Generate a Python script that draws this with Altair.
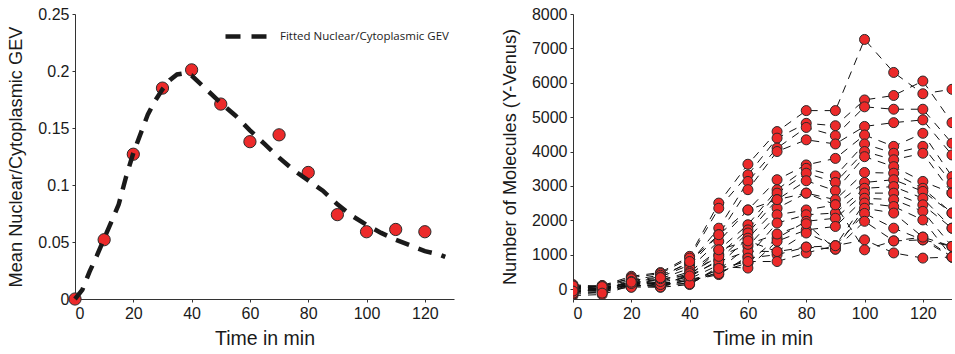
import altair as alt
import pandas as pd

# ---------------- Left panel data ----------------
mean_t = [0, 10, 20, 30, 40, 50, 60, 70, 80, 90, 100, 110, 120]
mean_ratio = [0.0, 0.052, 0.127, 0.185, 0.201, 0.171, 0.138, 0.144, 0.111, 0.074, 0.059, 0.061, 0.059]

fit_t = [0, 2.5, 5, 7.5, 10, 12.5, 15, 17.5, 20, 22.5, 25, 27.5, 30, 32.5, 35, 37.5, 40,
         42.5, 45, 50, 55, 60, 65, 70, 75, 80, 85, 90, 95, 100, 105, 110, 115, 120, 125, 127]
fit_ratio = [0.0, 0.008, 0.024, 0.038, 0.053, 0.068, 0.083, 0.107, 0.128, 0.145, 0.162, 0.174,
             0.184, 0.192, 0.197, 0.198, 0.196, 0.190, 0.184, 0.172, 0.161, 0.148, 0.136, 0.124,
             0.113, 0.104, 0.095, 0.083, 0.073, 0.065, 0.058, 0.052, 0.047, 0.042, 0.039, 0.037]
fit_label = "Fitted Nuclear/Cytoplasmic GEV"

# ---------------- Right panel data ----------------
times = [0, 10, 20, 30, 40, 50, 60, 70, 80, 90, 100, 110, 120, 130]
cells = {
    "A": [30, 100, 370, 480, 950, 2500, 3630, 4580, 5190, 5190, 7260, 6300, 5680, 5810],
    "B": [130, 60, 330, 450, 900, 2350, 3320, 4390, 4820, 4750, 5500, 5630, 6050, 4840],
    "C": [-100, -70, 270, 400, 755, 1770, 3130, 4100, 4700, 4460, 5300, 5230, 5230, 4240],
    "D": [50, 80, 250, 350, 700, 1580, 2890, 4000, 4340, 4220, 4730, 4840, 4920, 3900],
    "E": [-190, -160, 100, 300, 600, 1390, 2300, 3180, 3610, 3800, 4480, 4150, 4530, 3270],
    "F": [0, 20, 200, 250, 500, 1140, 1870, 2890, 3510, 3290, 4220, 3950, 4150, 3080],
    "G": [80, 100, 300, 100, 420, 1000, 1720, 2790, 3370, 3100, 4000, 3760, 3950, 2790],
    "H": [-50, -40, 150, 200, 350, 850, 1630, 2600, 3150, 2860, 3850, 3560, 3130, 2790],
    "I": [100, 0, 180, 150, 300, 700, 1480, 2350, 2790, 2600, 3390, 3370, 2930, 2210],
    "J": [-150, -100, 120, 180, 220, 560, 1240, 2160, 2300, 2450, 3100, 3180, 2840, 2210],
    "K": [60, 50, 90, 120, 250, 420, 950, 1920, 2160, 2210, 2930, 2980, 2640, 1770],
    "L": [-20, -20, 220, 100, 180, 500, 755, 1480, 1970, 2060, 2790, 2790, 2450, 1770],
    "M": [10, 80, 60, 50, 130, 650, 610, 1390, 1720, 1820, 2640, 2600, 2260, 1240],
    "N": [-80, 30, 100, 80, 400, 800, 1100, 1090, 1630, 1260, 2500, 2400, 2010, 930],
    "O": [40, -10, 140, 60, 280, 450, 900, 1000, 1220, 1160, 2350, 2210, 1510, 1240],
    "P": [-120, 40, 80, 130, 150, 600, 800, 800, 1050, 1260, 2200, 1770, 1430, 930],
    "Q": [20, -30, 50, 220, 450, 950, 1300, 1600, 1900, 1160, 1970, 1400, 1430, 1240],
    "R": [90, 70, 160, 300, 380, 1140, 1400, 1090, 1220, 1260, 1430, 1050, 900, 930],
    "S": [-60, -120, 200, 330, 800, 1580, 2300, 2600, 2790, 2450, 1140, 1400, 1510, 930],
}
x_ticks = [0, 20, 40, 60, 80, 100, 120]
y_left_ticks = [0, 0.05, 0.1, 0.15, 0.2, 0.25]
y_right_ticks = [0, 1000, 2000, 3000, 4000, 5000, 6000, 7000, 8000]

# ---------------- Tables ----------------
df_mean = pd.DataFrame({"t": mean_t, "v": mean_ratio})
df_fit = pd.DataFrame({"t": fit_t, "v": fit_ratio, "series": fit_label})
rows = []
for name, vals in cells.items():
    for t, v in zip(times, vals):
        rows.append({"cell": name, "t": t, "n": v})
df_cells = pd.DataFrame(rows)

RED = "#EC2A2A"
EDGE = "#2a2a2a"
W_L, W_R, H = 379, 379, 285

x_axis = alt.Axis(title="Time in min", values=x_ticks, labelOverlap=False)
x_left = alt.X("t:Q", scale=alt.Scale(domain=[0, 130], nice=False), axis=x_axis)
y_left = alt.Y("v:Q", scale=alt.Scale(domain=[0, 0.25], nice=False),
               axis=alt.Axis(title="Mean Nuclear/Cytoplasmic GEV",
                             values=y_left_ticks, format="~g", labelOverlap=False))

pts_left = alt.Chart(df_mean).mark_circle(size=150, color=RED, stroke=EDGE,
                                          strokeWidth=1, opacity=1).encode(x=x_left, y=y_left)
fit_line = alt.Chart(df_fit).mark_line(strokeDash=[14, 10], strokeWidth=4.5).encode(
    x=x_left, y=y_left,
    color=alt.Color("series:N", scale=alt.Scale(range=["#1a1a1a"]),
                    legend=alt.Legend(title=None, orient="none", legendX=148, legendY=-3,
                                      symbolType="stroke", symbolSize=2116,
                                      symbolStrokeWidth=4.5, symbolDash=[15, 11],
                                      labelFont="Open Sans", labelFontSize=11.5,
                                      labelLimit=400,
                                      labelColor="#222", padding=0, labelOffset=6)),
)
left = alt.layer(pts_left, fit_line).properties(width=W_L, height=H)

x_right = alt.X("t:Q", scale=alt.Scale(domain=[0, 130], nice=False), axis=x_axis)
y_right = alt.Y("n:Q", scale=alt.Scale(domain=[-290, 8000], nice=False),
                axis=alt.Axis(title="Number of Molecules (Y-Venus)",
                              values=y_right_ticks, format="d", labelOverlap=False))
traj = alt.Chart(df_cells).mark_line(strokeDash=[8, 7], strokeWidth=1, color="#111",
                                     clip=True).encode(x=x_right, y=y_right, detail="cell:N")
pts_right = alt.Chart(df_cells).mark_circle(size=100, color=RED, stroke=EDGE, strokeWidth=1,
                                            opacity=1, clip=True).encode(x=x_right, y=y_right)
right = alt.layer(traj, pts_right).properties(width=W_R, height=H)

chart = alt.hconcat(left, right, spacing=119, bounds="flush").properties(
    padding={"left": 6, "top": 6, "right": 0, "bottom": 4}
).configure_view(stroke=None).configure_axis(
    grid=False, domainColor="#333", tickColor="#333", tickSize=3,
    labelFont="Liberation Sans", labelFontSize=16, labelColor="#1a1a1a", labelPadding=3,
    titleFont="Liberation Sans", titleFontWeight="normal", titleColor="#1a1a1a",
).configure_axisY(titlePadding=12, titleFontSize=18.2).configure_axisX(
    titlePadding=8, titleFontSize=19.5)

chart.save("out.html", embed_options={"renderer": "svg", "actions": False})
